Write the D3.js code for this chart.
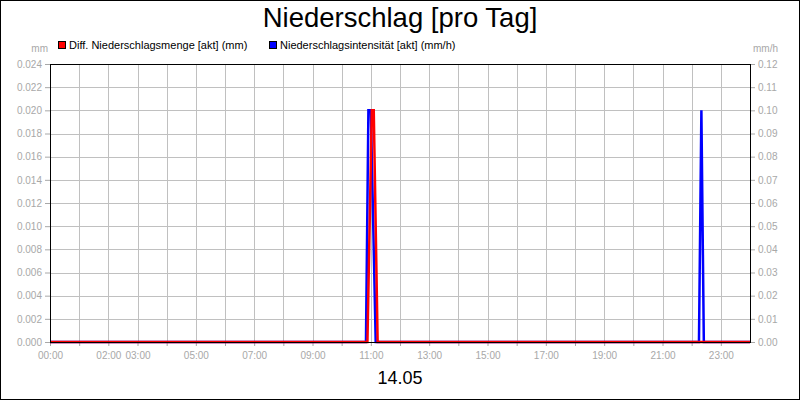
<!DOCTYPE html>
<html lang="de">
<head>
    <meta charset="UTF-8">
    <title>Niederschlag</title>
    <script src="https://cdn.jsdelivr.net/npm/d3@7"></script>
    <style>
        body { margin: 0; }
        text { font-family: "Liberation Sans", Arial, sans-serif; }
    </style>
</head>
<body>
<script>
	// Daten
	var dayLabel = "14.05";
	var hourTicks = d3.range(0, 25);
	var hourLabels = ["00:00", "02:00", "03:00", "05:00", "07:00", "09:00", "11:00", "13:00", "15:00", "17:00", "19:00", "21:00", "23:00"];
	var leftTicks = [0, 0.002, 0.004, 0.006, 0.008, 0.010, 0.012, 0.014, 0.016, 0.018, 0.020, 0.022, 0.024];
	var rightTicks = [0, 0.01, 0.02, 0.03, 0.04, 0.05, 0.06, 0.07, 0.08, 0.09, 0.10, 0.11, 0.12];

	// Diff. Niederschlagsmenge (mm), linke Achse
	var mengeTimes = ["00:00", "10:53", "11:02", "11:06", "11:14", "24:00"];
	var mengeValues = [0, 0, 0.020, 0.020, 0, 0];
	// Niederschlagsintensität (mm/h), rechte Achse
	var intensTimes = ["00:00", "10:50", "10:55", "11:00", "11:10", "22:15", "22:20", "22:25", "24:00"];
	var intensValues = [0, 0, 0.10, 0.10, 0, 0, 0.10, 0, 0];

	var width = 800, height = 400;
	var plot = {left: 50, right: 750, top: 64, bottom: 342};
	var gray = "#a8a8a8";

	function hours(s) {
		var p = s.split(":");
		return +p[0] + p[1] / 60;
	}

	var svg = d3.select("body").append("svg").attr("width", width).attr("height", height);
	svg.append("rect").attr("x", 0.5).attr("y", 0.5).attr("width", width - 1).attr("height", height - 1)
		.attr("fill", "#fff").attr("stroke", "#000");

	var x = d3.scaleLinear().domain([0, 24]).range([plot.left, plot.right]);
	var yL = d3.scaleLinear().domain([0, 0.024]).range([plot.bottom, plot.top]);
	var yR = d3.scaleLinear().domain([0, 0.12]).range([plot.bottom, plot.top]);

	// Gitter
	var grid = svg.append("g").attr("stroke", "#c0c0c0").attr("shape-rendering", "crispEdges");
	grid.selectAll(".v").data(hourTicks).enter().append("line")
		.attr("x1", function (d) { return Math.round(x(d)) + 0.5; })
		.attr("x2", function (d) { return Math.round(x(d)) + 0.5; })
		.attr("y1", plot.top).attr("y2", plot.bottom);
	grid.selectAll(".h").data(leftTicks).enter().append("line")
		.attr("x1", plot.left).attr("x2", plot.right)
		.attr("y1", function (d) { return Math.round(yL(d)) + 0.5; })
		.attr("y2", function (d) { return Math.round(yL(d)) + 0.5; });

	// Achsen
	var axisL = svg.append("g").attr("transform", "translate(" + plot.left + ",0)")
		.call(d3.axisLeft(yL).tickValues(leftTicks).tickSize(5).tickFormat(d3.format(".3f")));
	var axisR = svg.append("g").attr("transform", "translate(" + plot.right + ",0)")
		.call(d3.axisRight(yR).tickValues(rightTicks).tickSize(5).tickFormat(d3.format(".2f")));
	var axisB = svg.append("g").attr("transform", "translate(0," + plot.bottom + ")")
		.call(d3.axisBottom(x).tickValues(hourTicks.slice(0, 24)).tickSize(4).tickPadding(6)
			.tickFormat(function (d) {
				var s = (d < 10 ? "0" : "") + d + ":00";
				return hourLabels.indexOf(s) >= 0 ? s : "";
			}));
	[axisL, axisR, axisB].forEach(function (a) {
		a.select(".domain").remove();
		a.selectAll("line").attr("stroke", gray);
		a.selectAll("text").attr("fill", gray).attr("font-size", 10)
			.attr("font-family", "'Liberation Sans', Arial, sans-serif");
	});

	// Linien
	var lineL = d3.line()
		.x(function (d) { return x(hours(d[0])); })
		.y(function (d) { return yL(d[1]); });
	var lineR = d3.line()
		.x(function (d) { return x(hours(d[0])); })
		.y(function (d) { return yR(d[1]); });

	svg.append("path").datum(d3.zip(intensTimes, intensValues))
		.attr("d", lineR).attr("fill", "none").attr("stroke", "#0000ff").attr("stroke-width", 2.5);
	svg.append("path").datum(d3.zip(mengeTimes, mengeValues))
		.attr("d", lineL).attr("fill", "none").attr("stroke", "#ff0000").attr("stroke-width", 2.5);

	// Rahmen
	svg.append("rect").attr("x", plot.left + 0.5).attr("y", plot.top + 0.5)
		.attr("width", plot.right - plot.left).attr("height", plot.bottom - plot.top)
		.attr("fill", "none").attr("stroke", "#000").attr("shape-rendering", "crispEdges");

	// Texte
	svg.append("text").attr("x", 400).attr("y", 27).attr("text-anchor", "middle")
		.attr("font-size", 27.5).text("Niederschlag [pro Tag]");
	svg.append("text").attr("x", 400).attr("y", 384).attr("text-anchor", "middle")
		.attr("font-size", 18).text(dayLabel);
	svg.append("text").attr("x", 48).attr("y", 52).attr("text-anchor", "end")
		.attr("font-size", 10).attr("fill", gray).text("mm");
	svg.append("text").attr("x", 778).attr("y", 52).attr("text-anchor", "end")
		.attr("font-size", 10).attr("fill", gray).text("mm/h");

	// Legende
	var legend = [
		{name: "Diff. Niederschlagsmenge [akt] (mm)", color: "#ff0000", x: 58},
		{name: "Niederschlagsintensität [akt] (mm/h)", color: "#0000ff", x: 269}
	];
	var lg = svg.selectAll(".legend").data(legend).enter().append("g")
		.attr("transform", function (d) { return "translate(" + d.x + ",41)"; });
	lg.append("rect").attr("x", 0.5).attr("y", 0.5).attr("width", 7).attr("height", 7)
		.attr("fill", function (d) { return d.color; }).attr("stroke", "#000");
	lg.append("text").attr("x", 11).attr("y", 8).attr("font-size", 11)
		.text(function (d) { return d.name; });
</script>
</body>
</html>
